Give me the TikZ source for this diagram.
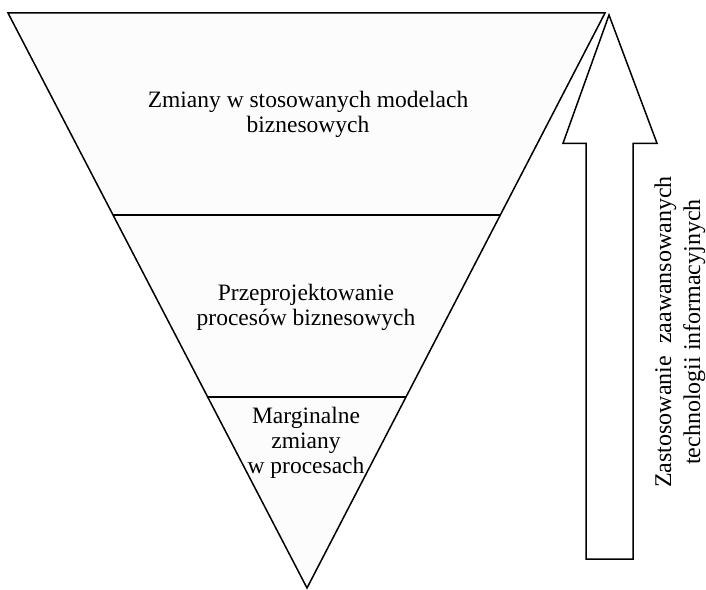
\documentclass[tikz,border=0pt]{standalone}
\usepackage{fontspec}
\setmainfont{Liberation Serif}
\usetikzlibrary{calc}

\begin{document}
\begin{tikzpicture}[x=1pt, y=1pt]
							\def \lw {1.5pt}
							\tikzset{level/.style={font=\fontsize{23.5}{25}\selectfont, align=center}}

							\useasboundingbox (0,0) rectangle (706,589);

							\coordinate (lt) at (8,576);
							\coordinate (rt) at (605,576);
							\coordinate (ap) at (307,1);
							\draw[line width=\lw, fill=black!1] (lt) -- (rt) -- (ap) -- cycle;

							\foreach \t in {0.3513, 0.6678}
							{
					  			\draw[line width=\lw] ($(lt)!\t!(ap)$) -- ($(rt)!\t!(ap)$);
							}

							\node[level] (modele) at (308,474.5) {Zmiany w stosowanych modelach\\biznesowych};
							\node[level] (procesy) at (306,281.5) {Przeprojektowanie\\procesów biznesowych};
							\node[level] (marginalne) at (306,146.5) {Marginalne\\zmiany\\w procesach};

							\draw[line width=\lw] (609,574) -- (657,445.7) -- (633,445.7) -- (633,30)
								-- (586,30) -- (586,445.7) -- (563,445.7) -- cycle;
							\node[rotate=90, font=\fontsize{24}{29}\selectfont, align=center] (opis) at (680,257)
								{Zastosowanie\ \ zaawansowanych\\technologii informacyjnych};
						\end{tikzpicture}
\end{document}
